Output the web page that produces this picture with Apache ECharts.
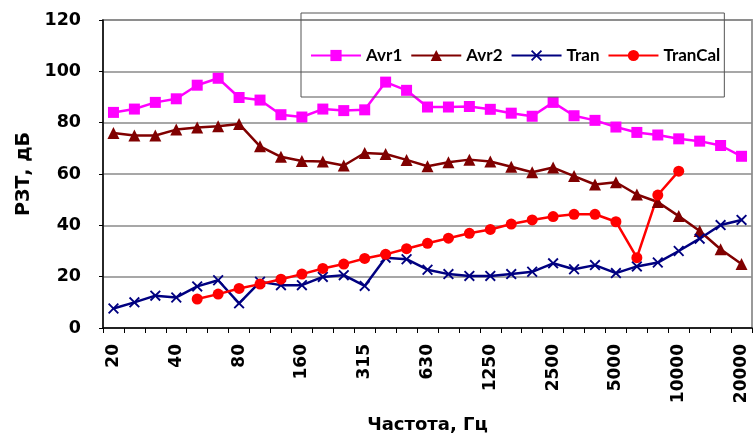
<!DOCTYPE html>
<html><head><meta charset="utf-8">
<script src="https://cdn.jsdelivr.net/npm/echarts@6/dist/echarts.min.js"></script>
<style>html,body{margin:0;padding:0;background:#fff}#c{width:756px;height:439px}</style>
</head><body><div id="c"></div>
<script>
var categories = ['20','25','31.5','40','50','63','80','100','125','160','200','250','315','400','500','630','800','1000','1250','1600','2000','2500','3150','4000','5000','6300','8000','10000','12500','16000','20000'];
var avr1 = [84.0,85.3,87.9,89.3,94.6,97.3,89.8,88.8,83.1,82.2,85.3,84.7,85.0,95.8,92.6,86.1,86.1,86.3,85.2,83.7,82.5,87.9,82.7,80.9,78.3,76.2,75.2,73.7,72.8,71.1,66.9];
var avr2 = [76.0,75.0,75.0,77.3,78.1,78.6,79.5,70.8,66.7,65.1,64.9,63.3,68.2,67.8,65.5,63.0,64.6,65.6,64.9,62.8,60.7,62.5,59.2,55.9,56.8,52.0,49.1,43.6,37.8,30.7,24.9];
var tran = [7.6,10.0,12.6,11.9,16.2,18.6,9.6,18.0,16.7,16.7,19.9,20.6,16.4,27.4,26.8,22.7,21.0,20.3,20.3,21.0,21.9,25.2,22.9,24.5,21.4,24.0,25.5,30.0,34.8,40.1,42.1];
var tranCal = [null,null,null,null,11.3,13.2,15.4,17.1,19.0,21.0,23.2,24.9,27.1,28.7,30.9,33.0,35.0,36.9,38.4,40.5,42.1,43.4,44.3,44.3,41.4,27.4,51.8,61.1,null,null,null];
var yTicks = {min:0, max:120, interval:20};

var crossPath = 'path://M0,1.2L1.2,0L5,3.8L8.8,0L10,1.2L6.2,5L10,8.8L8.8,10L5,6.2L1.2,10L0,8.8L3.8,5Z';
function mk(name, data, color, symbol, size) {
  return {name:name, type:'line', data:data, symbol:symbol, symbolSize:size,
    showAllSymbol:true, connectNulls:false,
    lineStyle:{color:color, width:2.5}, itemStyle:{color:color},
    emphasis:{disabled:true}, animation:false};
}
var chart = echarts.init(document.getElementById('c'), null, {renderer:'canvas'});
chart.setOption({
  animation:false,
  grid:{left:103, right:4, top:20, bottom:110, show:true, borderColor:'#9a9a9a', borderWidth:2},
  legend:{left:301, top:13, padding:[34,4,33,9], itemWidth:50, itemHeight:14, itemGap:8,
    borderColor:'#555', borderWidth:1,
    textStyle:{fontFamily:'Lato', fontWeight:'bold', fontSize:17, color:'#000'},
    data:['Avr1','Avr2','Tran','TranCal']},
  xAxis:{type:'category', data:categories, boundaryGap:true,
    name:'Частота, Гц', nameLocation:'middle', nameGap:88,
    nameTextStyle:{fontFamily:'DejaVu Sans', fontWeight:'bold', fontSize:18, color:'#000'},
    axisLine:{lineStyle:{color:'#000', width:1.5}},
    axisTick:{show:true, interval:0, length:5, lineStyle:{color:'#000'}},
    axisLabel:{interval:2, rotate:90, margin:16, fontFamily:'DejaVu Sans', fontWeight:'bold', fontSize:17, color:'#000'},
    splitLine:{show:false}},
  yAxis:{type:'value', min:yTicks.min, max:yTicks.max, interval:yTicks.interval,
    name:'РЗТ, дБ', nameLocation:'middle', nameGap:68,
    nameTextStyle:{fontFamily:'DejaVu Sans', fontWeight:'bold', fontSize:19, color:'#000'},
    axisLine:{show:true, lineStyle:{color:'#000', width:1.5}},
    axisTick:{show:true, length:4, lineStyle:{color:'#000'}},
    axisLabel:{margin:22, fontFamily:'DejaVu Sans', fontWeight:'bold', fontSize:17.5, color:'#000'},
    splitLine:{show:true, lineStyle:{color:'#8a8a8a', width:1.5}}},
  series:[
    mk('Avr1', avr1, '#FF00FF', 'rect', 11),
    mk('Avr2', avr2, '#800000', 'triangle', 12),
    mk('Tran', tran, '#000080', crossPath, 11),
    mk('TranCal', tranCal, '#FF0000', 'circle', 11)
  ]
});
</script></body></html>
